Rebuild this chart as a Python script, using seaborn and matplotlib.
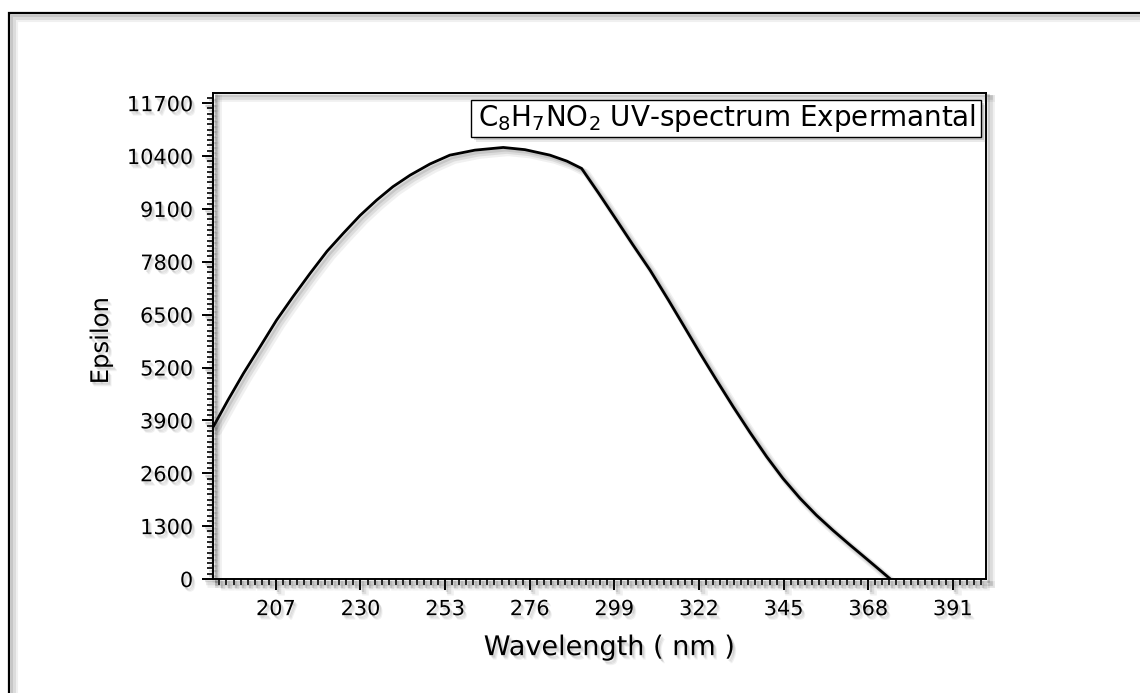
import numpy as np
import pandas as pd
import matplotlib
matplotlib.use("Agg")
import matplotlib.pyplot as plt
import matplotlib.patheffects as pe
from matplotlib.lines import Line2D
from matplotlib.patches import Rectangle
from matplotlib.ticker import MultipleLocator
import seaborn as sns

# data
wavelength = [190.0, 194.0, 198.2, 202.7, 207.2, 211.7, 216.3, 220.9, 225.3, 229.9,
              234.4, 238.8, 243.5, 248.9, 254.3, 261.1, 268.8, 274.7, 281.5, 286.1,
              290.1, 294.8, 299.6, 304.0, 308.7, 313.7, 317.9, 322.3, 326.8, 331.3,
              335.9, 340.4, 344.8, 349.4, 353.9, 358.5, 363.0, 366.3, 370.1, 374.0]
epsilon = [3744, 4400, 5056, 5708, 6366, 6946, 7514, 8057, 8497, 8940,
           9316, 9645, 9930, 10205, 10422, 10545, 10611, 10557, 10422, 10275,
           10095, 9477, 8825, 8222, 7595, 6858, 6219, 5548, 4884, 4235,
           3599, 3006, 2475, 1990, 1570, 1190, 840, 590, 300, 0]
x_ticks_step = 23
y_ticks_step = 1300
legend_text = r"C$_8$H$_7$NO$_2$ UV-spectrum Expermantal"


def line_shadow(lw):
    eff = []
    for d, a, w in [(3.5, 0.07, lw + 3.5), (2.6, 0.10, lw + 2), (1.7, 0.13, lw + 0.5)]:
        eff.append(pe.SimpleLineShadow(offset=(d, -d), shadow_color="0.2", alpha=a, rho=1, linewidth=w))
    eff.append(pe.Normal())
    return eff


def text_shadow():
    eff = []
    for d, a in [(3.2, 0.08), (2.4, 0.10), (1.6, 0.13)]:
        eff.append(pe.SimplePatchShadow(offset=(d * 0.8, -d), shadow_rgbFace="0.3", alpha=a))
    eff.append(pe.Normal())
    return eff


sns.set_style("ticks")
plt.rcParams["font.family"] = ["DejaVu Sans"]
plt.rcParams["mathtext.fontset"] = "dejavusans"
plt.rcParams["text.color"] = "black"
plt.rcParams["axes.labelcolor"] = "black"

df = pd.DataFrame({"Wavelength": wavelength, "Epsilon": epsilon})

fig = plt.figure(figsize=(11.4, 6.93), dpi=100)
fig.patch.set_facecolor("white")
ax = fig.add_axes([0.1871, 0.1645, 0.6778, 0.7013])

sns.lineplot(data=df, x="Wavelength", y="Epsilon", color="black", linewidth=2.0, ax=ax)
ax.lines[0].set_path_effects(line_shadow(2.0))
ax.lines[0].set_solid_joinstyle("round")

ax.set_xlim(190, 400)
ax.set_ylim(0, 11950)
ax.xaxis.set_major_locator(MultipleLocator(x_ticks_step))
ax.xaxis.set_minor_locator(MultipleLocator(x_ticks_step / 12))
ax.yaxis.set_major_locator(MultipleLocator(y_ticks_step))
ax.yaxis.set_minor_locator(MultipleLocator(y_ticks_step / 10))

ax.tick_params(which="major", direction="out", length=8, width=1.4, pad=6.5,
               labelsize=15, colors="black")
ax.tick_params(which="minor", direction="out", length=4.5, width=1.2, colors="black")

for side in ["top", "right", "bottom", "left"]:
    ax.spines[side].set_visible(True)
    ax.spines[side].set_linewidth(1.4)
    ax.spines[side].set_color("black")
    ax.spines[side].set_path_effects(line_shadow(1.4))

ax.set_xlabel("Wavelength ( nm )", fontsize=19.5, labelpad=11.5, x=0.513)
ax.set_ylabel("Epsilon", fontsize=17.5, labelpad=10, y=0.49)
ax.xaxis.label.set_path_effects(text_shadow())
ax.yaxis.label.set_path_effects(text_shadow())

for lbl in ax.get_xticklabels() + ax.get_yticklabels():
    lbl.set_path_effects(text_shadow())
for tl in (ax.xaxis.get_ticklines() + ax.yaxis.get_ticklines()
           + ax.xaxis.get_ticklines(minor=True) + ax.yaxis.get_ticklines(minor=True)):
    tl.set_path_effects(line_shadow(1.2))

# legend-like label box
box = Rectangle((0.3335, 0.9095), 0.66, 0.0761, transform=ax.transAxes,
                facecolor="white", edgecolor="black", linewidth=1.0, zorder=5)
box.set_path_effects([pe.SimplePatchShadow(offset=(3.5, -3.5), shadow_rgbFace="0.3", alpha=0.12),
                      pe.SimplePatchShadow(offset=(2.2, -2.2), shadow_rgbFace="0.3", alpha=0.2),
                      pe.Normal()])
ax.add_patch(box)
ax.text(0.3426, 0.9486, legend_text, transform=ax.transAxes, fontsize=20,
        ha="left", va="center", zorder=6)

# outer frame (only top and left visible)
frame = Line2D([0.0079, 0.0079, 1.01], [-0.01, 0.9812, 0.9812], transform=fig.transFigure,
               color="black", linewidth=1.6, solid_joinstyle="miter")
frame.set_path_effects(line_shadow(1.6))
fig.add_artist(frame)

fig.savefig("out.png", dpi=100, facecolor="white")
